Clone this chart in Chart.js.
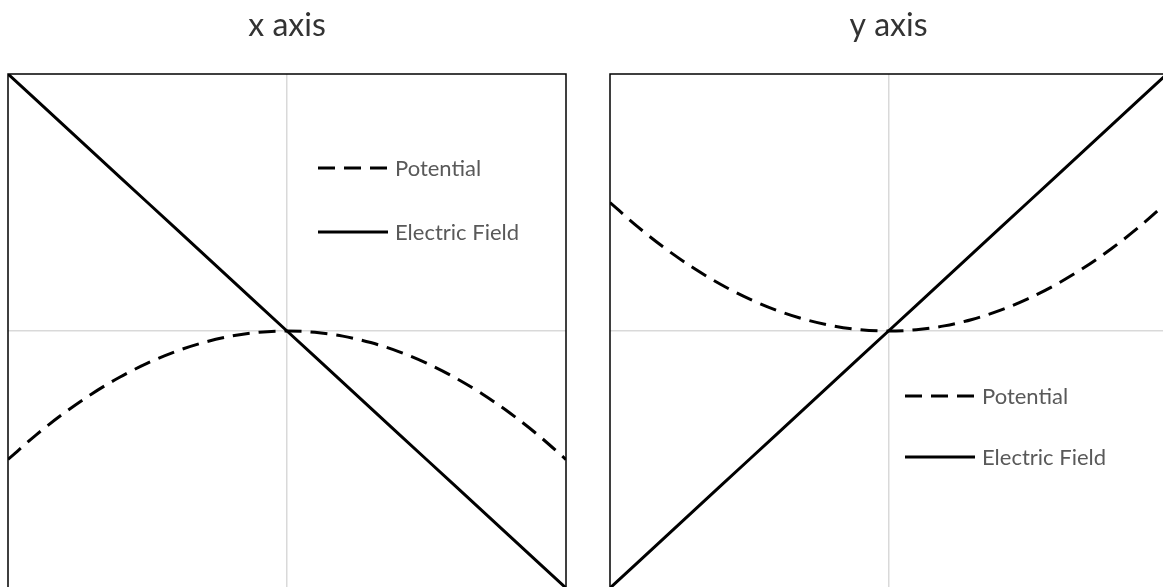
<!DOCTYPE html>
<html>
<head>
<meta charset="utf-8">
<title>Potential and Electric Field</title>
<script src="https://cdn.jsdelivr.net/npm/chart.js@4.4.1/dist/chart.umd.min.js"></script>
<style>
  html, body { margin: 0; padding: 0; background: #fff; overflow: hidden; width: 1163px; height: 587px; }
  canvas { position: absolute; top: 0; }
  #chartX { left: 0; }
  #chartY { left: 600px; }
</style>
</head>
<body>
<canvas id="chartX" width="580" height="600"></canvas>
<canvas id="chartY" width="580" height="600"></canvas>
<script>
// Position along the axis (normalised, -1 … 1)
const positions = [-1, -0.9, -0.8, -0.7, -0.6, -0.5, -0.4, -0.3, -0.2, -0.1, 0,
                   0.1, 0.2, 0.3, 0.4, 0.5, 0.6, 0.7, 0.8, 0.9, 1];

// Along x: potential peaks at the centre, field falls steadily
const potentialAlongX = [-0.50, -0.405, -0.32, -0.245, -0.18, -0.125, -0.08, -0.045, -0.02, -0.005, 0,
                         -0.005, -0.02, -0.045, -0.08, -0.125, -0.18, -0.245, -0.32, -0.405, -0.50];
const fieldAlongX = [1.0, 0.9, 0.8, 0.7, 0.6, 0.5, 0.4, 0.3, 0.2, 0.1, 0,
                     -0.1, -0.2, -0.3, -0.4, -0.5, -0.6, -0.7, -0.8, -0.9, -1.0];

// Along y: potential has a minimum at the centre, field rises steadily
const potentialAlongY = [0.50, 0.405, 0.32, 0.245, 0.18, 0.125, 0.08, 0.045, 0.02, 0.005, 0,
                         0.005, 0.02, 0.045, 0.08, 0.125, 0.18, 0.245, 0.32, 0.405, 0.50];
const fieldAlongY = [-1.0, -0.9, -0.8, -0.7, -0.6, -0.5, -0.4, -0.3, -0.2, -0.1, 0,
                     0.1, 0.2, 0.3, 0.4, 0.5, 0.6, 0.7, 0.8, 0.9, 1.0];

const seriesNames = ['Potential', 'Electric Field'];
const chartTitles = ['x axis', 'y axis'];

const toPoints = values => positions.map((p, i) => ({ x: p, y: values[i] }));

// Frame around the plot area
const frame = {
  id: 'frame',
  afterDraw(chart) {
    const { ctx, chartArea: a } = chart;
    ctx.save();
    ctx.strokeStyle = '#000';
    ctx.lineWidth = 1.5;
    ctx.strokeRect(a.left, a.top, a.right - a.left, a.bottom - a.top);
    ctx.restore();
  }
};

// Legend drawn inside the plot area
const innerLegend = {
  id: 'innerLegend',
  afterDatasetsDraw(chart, args, opts) {
    const { ctx, chartArea: a } = chart;
    ctx.save();
    chart.data.datasets.forEach((ds, i) => {
      const x0 = a.left + opts.x;
      const y = a.top + opts.rows[i];
      ctx.beginPath();
      ctx.strokeStyle = ds.borderColor;
      ctx.lineWidth = ds.borderWidth;
      ctx.setLineDash(ds.borderDash || []);
      ctx.moveTo(x0, y);
      ctx.lineTo(x0 + opts.sample, y);
      ctx.stroke();
      ctx.setLineDash([]);
      ctx.fillStyle = '#595959';
      ctx.font = '22px Lato';
      ctx.textBaseline = 'middle';
      ctx.textAlign = 'left';
      ctx.fillText(ds.label, x0 + opts.sample + 7, y + 1);
    });
    ctx.restore();
  }
};

const axisOptions = {
  type: 'linear',
  min: -1,
  max: 1,
  ticks: { display: false, stepSize: 1 },
  grid: {
    drawTicks: false,
    lineWidth: 1.5,
    color: c => (c.tick && c.tick.value === 0 ? '#d9d9d9' : 'rgba(0,0,0,0)')
  },
  border: { display: false }
};

function makeChart(id, title, potential, field, padding, legendPos) {
  return new Chart(document.getElementById(id), {
    type: 'scatter',
    data: {
      datasets: [
        {
          label: seriesNames[0],
          data: toPoints(potential),
          showLine: true,
          borderColor: '#000',
          borderWidth: 3,
          borderDash: [17, 9],
          pointRadius: 0,
          cubicInterpolationMode: 'monotone'
        },
        {
          label: seriesNames[1],
          data: toPoints(field),
          showLine: true,
          borderColor: '#000',
          borderWidth: 3,
          pointRadius: 0
        }
      ]
    },
    options: {
      responsive: false,
      animation: false,
      devicePixelRatio: 1,
      layout: { padding },
      scales: { x: axisOptions, y: axisOptions },
      plugins: {
        legend: { display: false },
        tooltip: { enabled: false },
        title: {
          display: true,
          text: title,
          color: '#333333',
          font: { family: 'Lato', size: 32, weight: 'normal' },
          padding: { top: 6, bottom: 29.6 }
        },
        innerLegend: legendPos
      }
    },
    plugins: [frame, innerLegend]
  });
}

makeChart('chartX', chartTitles[0], potentialAlongX, fieldAlongX,
  { left: 8, right: 14, top: 0, bottom: 12 },
  { x: 310, sample: 70, rows: [94, 158] });

makeChart('chartY', chartTitles[1], potentialAlongY, fieldAlongY,
  { left: 10, right: 13, top: 0, bottom: 12 },
  { x: 295, sample: 70, rows: [322, 383] });
</script>
</body>
</html>
